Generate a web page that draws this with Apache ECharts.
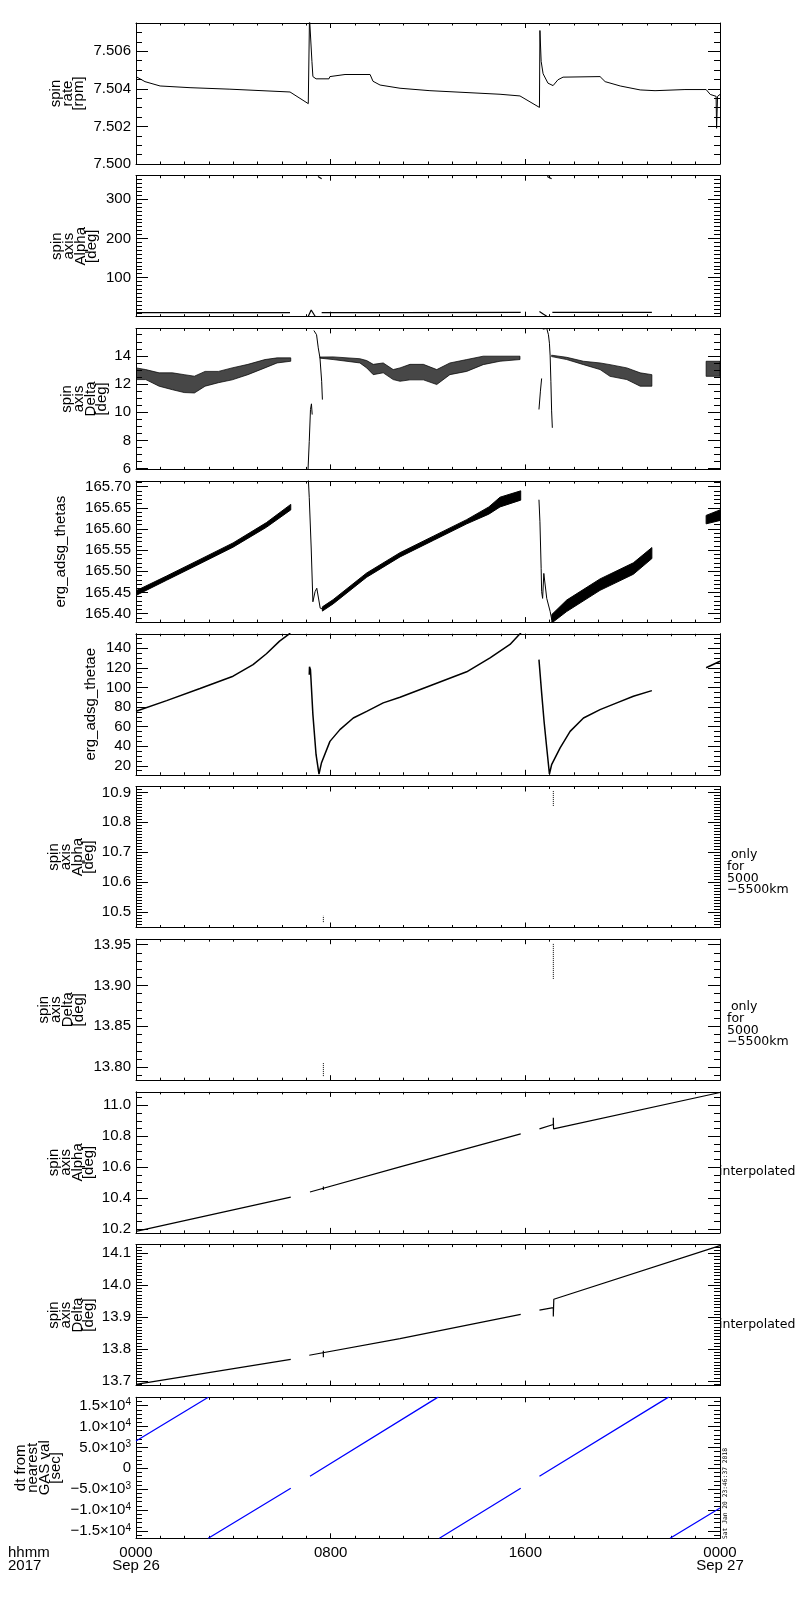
<!DOCTYPE html>
<html>
<head>
<meta charset="utf-8">
<script src="https://cdn.jsdelivr.net/npm/echarts@6.0.0/dist/echarts.min.js"></script>
<style>
html, body { margin: 0; padding: 0; background: #fff; }
#chart { width: 800px; height: 1600px; }
</style>
</head>
<body>
<div id="chart"></div>
<script>
// hours since 0000 Sep 26 2017
var hourTicks = [0, 8, 16, 24];
var hourTickLabels = ['0000\nSep 26', '0800', '1600', '0000\nSep 27'];

// panel 1: spin rate [rpm]
var rateHour = [0, 0.37, 0.99, 2.22, 3.86, 6.33, 7.08, 7.13, 7.23, 7.27, 7.40, 7.93, 7.97, 8.59, 9.62, 9.74, 10.03, 10.85, 12.08, 14.96, 15.78, 16.58, 16.60, 16.65, 16.73, 16.93, 17.14, 17.34, 17.55, 19.07, 19.28, 19.90, 20.72, 21.33, 22.56, 23.43, 23.60, 23.84, 23.86, 23.90, 24.00];
var rateVal = [7.50465, 7.50438, 7.50415, 7.50406, 7.50398, 7.50383, 7.50321, 7.50780, 7.50546, 7.50465, 7.50453, 7.50453, 7.50465, 7.50476, 7.50476, 7.50440, 7.50420, 7.50403, 7.50390, 7.50371, 7.50362, 7.50301, 7.50710, 7.50546, 7.50480, 7.50430, 7.50417, 7.50448, 7.50462, 7.50465, 7.50438, 7.50415, 7.50394, 7.50390, 7.50396, 7.50396, 7.50370, 7.50360, 7.50190, 7.50360, 7.50370];
var rateTicks = ['7.500', '7.502', '7.504', '7.506'];

// panel 2: spin axis Alpha, full range
var alphaHour = [0, 2.2, 4.5, 6.33, 6.33, 7.08, 7.20, 7.36, 7.36, 7.48, 7.63, 7.63, 7.63, 10.85, 15.81, 15.81, 16.58, 16.75, 16.88, 16.88, 16.90, 17.08, 17.08, 17.11, 19.5, 21.2];
var alphaVal = [10.2, 10.3, 10.35, 10.42, null, 1, 17, 1, null, 358, 352, null, 10.5, 10.6, 10.8, null, 13, 6, 1, null, 358, 352, null, 10.9, 11.0, 11.2];
var alphaTicks = ['100', '200', '300'];

// panel 3: spin axis Delta, scattered band (upper / lower edge) and jumps
var delBand1Hour = [0, 0.4, 0.95, 1.5, 1.98, 2.4, 2.84, 3.39, 3.95, 4.6, 5.3, 5.8, 6.36];
var delBand1Hi = [13.15, 13.03, 12.8, 12.8, 12.67, 12.56, 12.9, 12.9, 13.15, 13.4, 13.74, 13.86, 13.86];
var delBand1Lo = [12.32, 12.32, 11.85, 11.6, 11.4, 11.37, 11.85, 12.1, 12.3, 12.67, 13.15, 13.5, 13.62];
var delBand2Hour = [7.56, 8.1, 9.2, 9.48, 9.75, 10.16, 10.57, 10.85, 11.26, 11.81, 12.36, 12.9, 13.59, 14.27, 14.96, 15.78];
var delBand2Hi = [13.92, 13.93, 13.8, 13.67, 13.4, 13.5, 13.03, 13.15, 13.4, 13.4, 13.03, 13.5, 13.74, 13.98, 13.98, 13.98];
var delBand2Lo = [13.84, 13.74, 13.5, 13.15, 12.67, 12.8, 12.32, 12.2, 12.3, 12.3, 11.97, 12.67, 12.9, 13.38, 13.62, 13.74];
var delBand3Hour = [17.08, 17.7, 18.39, 19.07, 19.48, 20.17, 20.72, 21.2];
var delBand3Hi = [14.05, 13.9, 13.62, 13.5, 13.38, 13.15, 12.8, 12.67];
var delBand3Lo = [13.95, 13.74, 13.38, 13.03, 12.55, 12.32, 11.85, 11.85];
var delBand4Hour = [23.43, 24];
var delBand4Hi = [13.62, 13.62];
var delBand4Lo = [12.55, 12.55];
var delSpikeHour = [7.07, 7.12, 7.17, 7.21, 7.24, 7.24, 7.31, 7.36, 7.42, 7.49, 7.56, 7.63, 7.66, 7.66, 16.56, 16.62, 16.67, 16.67, 16.72, 16.88, 16.95, 16.99, 17.02, 17.05, 17.08, 17.11];
var delSpikeVal = [5.95, 7.94, 10.2, 10.6, 9.84, null, 15.8, 15.9, 15.5, 14.57, 13.86, 12.2, 10.9, null, 10.2, 11.5, 12.4, null, 15.9, 15.95, 15.5, 14.9, 14.0, 12.2, 10.1, 8.9];
var deltaTicks = ['6', '8', '10', '12', '14'];

// panel 4: erg_adsg_thetas
var thsBand1Hour = [0, 1.26, 2.63, 3.99, 5.36, 6.36];
var thsBand1Hi = [165.454, 165.489, 165.528, 165.567, 165.615, 165.658];
var thsBand1Lo = [165.443, 165.479, 165.518, 165.557, 165.604, 165.645];
var thsBand2Hour = [7.66, 8.1, 9.48, 10.85, 12.22, 13.59, 14.5, 14.96, 15.81];
var thsBand2Hi = [165.416, 165.433, 165.496, 165.544, 165.583, 165.622, 165.652, 165.675, 165.69];
var thsBand2Lo = [165.406, 165.423, 165.486, 165.534, 165.573, 165.612, 165.635, 165.652, 165.668];
var thsBand3Hour = [17.09, 17.7, 19.07, 20.44, 21.2];
var thsBand3Hi = [165.398, 165.432, 165.482, 165.52, 165.556];
var thsBand3Lo = [165.378, 165.405, 165.455, 165.493, 165.53];
var thsBand4Hour = [23.43, 24];
var thsBand4Hi = [165.632, 165.645];
var thsBand4Lo = [165.612, 165.62];
var thsSpikeHour = [7.08, 7.12, 7.2, 7.27, 7.36, 7.43, 7.57, 7.66, 7.66, 16.56, 16.6, 16.65, 16.67, 16.71, 16.76, 16.88, 17.02, 17.09];
var thsSpikeVal = [165.72, 165.674, 165.555, 165.428, 165.452, 165.46, 165.413, 165.411, null, 165.669, 165.617, 165.507, 165.452, 165.436, 165.495, 165.436, 165.405, 165.385];
var thetasTicks = ['165.40', '165.45', '165.50', '165.55', '165.60', '165.65', '165.70'];

// panel 5: erg_adsg_thetae
var thetaeHour = [0, 1.26, 2.63, 3.99, 4.81, 5.36, 5.9, 6.3, 6.4, 6.4, 7.12, 7.13, 7.17, 7.27, 7.40, 7.52, 7.62, 7.97, 8.38, 8.93, 9.48, 10.16, 10.85, 12.22, 13.59, 14.55, 15.37, 15.78, 15.9, 15.9, 16.56, 16.67, 16.77, 16.88, 16.99, 17.08, 17.43, 17.84, 18.39, 19.07, 19.76, 20.44, 21.2, 21.2, 23.43, 24];
var thetaeVal = [75.6, 86.5, 98.8, 111.4, 123.3, 134.3, 147.2, 154.7, 158, null, 113, 121, 118, 72.2, 31.3, 11.6, 22.8, 44.9, 56.9, 68.8, 75.6, 84.2, 89.9, 102.9, 115.9, 130.2, 143.8, 154.7, 158, null, 128.4, 94.4, 65.4, 38.2, 11.6, 21.1, 38.2, 55.1, 68.8, 77.3, 84.2, 90.9, 96.7, null, 120, 126.7];
var thetaeTicks = ['20', '40', '60', '80', '100', '120', '140'];

// panel 6 / 7: only for 5000-5500 km
var alphaNearHour = [7.70, 7.70, 7.70, 17.15, 17.15];
var alphaNearVal = [10.466, 10.487, null, 10.855, 10.905];
var alphaNearTicks = ['10.5', '10.6', '10.7', '10.8', '10.9'];
var deltaNearHour = [7.70, 7.70, 7.70, 17.15, 17.15];
var deltaNearVal = [13.789, 13.806, null, 13.908, 13.951];
var deltaNearTicks = ['13.80', '13.85', '13.90', '13.95'];

// panel 8 / 9: interpolated
var alphaIntHour = [0, 6.36, 6.36, 7.15, 10.85, 15.81, 15.81, 16.58, 17.15, 17.15, 17.16, 24, 24, 7.70, 7.70];
var alphaIntVal = [10.184, 10.406, null, 10.439, 10.602, 10.815, null, 10.848, 10.876, 10.92, 10.848, 11.083, null, 10.452, 10.475];
var alphaIntTicks = ['10.2', '10.4', '10.6', '10.8', '11.0'];
var deltaIntHour = [0, 6.36, 6.36, 7.12, 10.85, 15.81, 15.81, 16.58, 17.15, 17.15, 17.17, 24, 24, 7.70, 7.70];
var deltaIntVal = [13.690, 13.768, null, 13.781, 13.833, 13.909, null, 13.922, 13.930, 13.902, 13.956, 14.124, null, 13.775, 13.795];
var deltaIntTicks = ['13.7', '13.8', '13.9', '14.0', '14.1'];

// panel 10: dt from nearest GAS val [sec]
var dtHour = [0, 2.97, 2.97, 2.97, 6.36, 6.36, 7.15, 12.43, 12.43, 12.47, 15.81, 15.81, 16.58, 21.9, 21.9, 21.95, 24];
var dtVal = [6530, 17000, null, -16750, -4780, null, -1900, 17100, null, -16750, -4780, null, -1900, 17100, null, -16750, -9500];
var dtTickVals = [15000, 10000, 5000, 0, -5000, -10000, -15000];
var dtTickLabels = ['1.5\u00d710{s|4}', '1.0\u00d710{s|4}', '5.0\u00d710{s|3}', '0', '\u22125.0\u00d710{s|3}', '\u22121.0\u00d710{s|4}', '\u22121.5\u00d710{s|4}'];

var FONT = 'Liberation Sans';
var TOP0 = 23, STEP = 152.7, H = 141, LEFT = 136, W = 584;

var panels = [
  { name: 'spin\nrate\n[rpm]', gap: 51, min: 7.500, max: 7.5075, ticks: rateTicks, minor: 0.0005 },
  { name: 'spin\naxis\nAlpha\n[deg]', gap: 38, min: 0, max: 360, ticks: alphaTicks, minor: 10 },
  { name: 'spin\naxis\nDelta\n[deg]', gap: 28, min: 5.95, max: 15.95, ticks: deltaTicks, minor: 0.5 },
  { name: 'erg_adsg_thetas', gap: 69, min: 165.38, max: 165.713, ticks: thetasTicks, minor: 0.01 },
  { name: 'erg_adsg_thetae', gap: 39, min: 10.8, max: 154.7, ticks: thetaeTicks, minor: 5 },
  { name: 'spin\naxis\nAlpha\n[deg]', gap: 41, min: 10.448, max: 10.92, ticks: alphaNearTicks, minor: 0.01 },
  { name: 'spin\naxis\nDelta\n[deg]', gap: 51, min: 13.784, max: 13.9566, ticks: deltaNearTicks, minor: 0.01 },
  { name: 'spin\naxis\nAlpha\n[deg]', gap: 41, min: 10.174, max: 11.087, ticks: alphaIntTicks, minor: 0.05 },
  { name: 'spin\naxis\nDelta\n[deg]', gap: 41, min: 13.686, max: 14.127, ticks: deltaIntTicks, minor: 0.01 },
  { name: 'dt from\nnearest\nGAS val\n[sec]', gap: 74, min: -16750, max: 17000, tickVals: dtTickVals, tickLabels: dtTickLabels, minor: 1000 }
];

function steps(min, max, step) {
  var out = [];
  for (var k = Math.ceil(min / step - 1e-9); k * step <= max + 1e-9; k++) {
    out.push(Math.round(k * step * 1e6) / 1e6);
  }
  return out;
}

function pairs(h, v) {
  return h.map(function (x, i) { return [x, v[i] == null ? '-' : v[i]]; });
}

function lookup(vals, labels) {
  return function (v) {
    for (var k = 0; k < vals.length; k++) {
      if (Math.abs(vals[k] - v) < 1e-6) return labels[k];
    }
    return '';
  };
}

var grids = [], xAxes = [], yAxes = [], series = [];
var hourMinor = steps(0, 24, 1);

panels.forEach(function (p, i) {
  var last = i === panels.length - 1;
  var tickVals = p.tickVals || p.ticks.map(Number);
  var tickLabels = p.tickLabels || p.ticks;
  var minors = steps(p.min, p.max, p.minor);

  grids.push({ left: LEFT, top: TOP0 + i * STEP, width: W, height: H, outerBoundsMode: 'none' });

  ['bottom', 'top'].forEach(function (pos) {
    xAxes.push({
      type: 'value', gridIndex: i, position: pos, min: 0, max: 24,
      splitLine: { show: false },
      axisLine: { show: true, onZero: false, lineStyle: { color: '#000', width: 1 } },
      axisTick: { show: true, inside: true, length: 5, customValues: hourTicks, lineStyle: { color: '#000' } },
      axisLabel: {
        show: last && pos === 'bottom', customValues: hourTicks,
        formatter: lookup(hourTicks, hourTickLabels),
        margin: 8, fontSize: 15, lineHeight: 13, color: '#000', fontFamily: FONT
      }
    });
    xAxes.push({
      type: 'value', gridIndex: i, position: pos, min: 0, max: 24,
      splitLine: { show: false },
      axisLine: { show: false, onZero: false },
      axisTick: { show: true, inside: true, length: 2.5, customValues: hourMinor, lineStyle: { color: '#000' } },
      axisLabel: { show: false }
    });
  });

  ['left', 'right'].forEach(function (pos) {
    var main = {
      type: 'value', gridIndex: i, position: pos, min: p.min, max: p.max,
      splitLine: { show: false },
      axisLine: { show: true, onZero: false, lineStyle: { color: '#000', width: 1 } },
      axisTick: { show: true, inside: true, length: 12, customValues: tickVals, lineStyle: { color: '#000' } },
      axisLabel: { show: false }
    };
    if (pos === 'left') {
      main.axisLabel = {
        show: true, customValues: tickVals, formatter: lookup(tickVals, tickLabels),
        margin: 5, fontSize: 15, lineHeight: 16, color: '#000', fontFamily: FONT,
        rich: { s: { fontSize: 10, lineHeight: 10, verticalAlign: 'top', color: '#000', fontFamily: FONT } }
      };
      main.name = p.name;
      main.nameLocation = 'middle';
      main.nameRotate = 90;
      main.nameGap = p.gap;
      main.nameMoveOverlap = false;
      main.nameTextStyle = { fontSize: 15, lineHeight: 11.7, color: '#000', fontFamily: FONT };
    }
    yAxes.push(main);
    yAxes.push({
      type: 'value', gridIndex: i, position: pos, min: p.min, max: p.max,
      splitLine: { show: false },
      axisLine: { show: false, onZero: false },
      axisTick: { show: true, inside: true, length: 6, customValues: minors, lineStyle: { color: '#000' } },
      axisLabel: { show: false }
    });
  });
});

function line(i, h, v, color, width, type) {
  return {
    type: 'line', xAxisIndex: 4 * i, yAxisIndex: 4 * i,
    data: pairs(h, v), showSymbol: false, symbol: 'none', connectNulls: false,
    clip: true, silent: true, animation: false,
    lineStyle: { color: color || '#000', width: width || 1, type: type || 'solid' }
  };
}

function band(i, hours, lo, hi, fill) {
  return {
    type: 'custom', xAxisIndex: 4 * i, yAxisIndex: 4 * i,
    clip: true, silent: true, animation: false,
    data: [[hours[0], lo[0]]],
    renderItem: function (params, api) {
      var pts = [];
      for (var k = 0; k < hours.length; k++) pts.push(api.coord([hours[k], hi[k]]));
      for (var j = hours.length - 1; j >= 0; j--) pts.push(api.coord([hours[j], lo[j]]));
      return { type: 'polygon', shape: { points: pts }, style: { fill: fill, stroke: fill, lineWidth: 1 } };
    }
  };
}

var bandFill = 'rgba(0,0,0,0.72)';
series.push(line(0, rateHour, rateVal));
series.push(line(1, alphaHour, alphaVal, '#000', 1.2));
series.push(band(2, delBand1Hour, delBand1Lo, delBand1Hi, bandFill));
series.push(band(2, delBand2Hour, delBand2Lo, delBand2Hi, bandFill));
series.push(band(2, delBand3Hour, delBand3Lo, delBand3Hi, bandFill));
series.push(band(2, delBand4Hour, delBand4Lo, delBand4Hi, bandFill));
series.push(line(2, delSpikeHour, delSpikeVal));
series.push(band(3, thsBand1Hour, thsBand1Lo, thsBand1Hi, '#000'));
series.push(band(3, thsBand2Hour, thsBand2Lo, thsBand2Hi, '#000'));
series.push(band(3, thsBand3Hour, thsBand3Lo, thsBand3Hi, '#000'));
series.push(band(3, thsBand4Hour, thsBand4Lo, thsBand4Hi, '#000'));
series.push(line(3, thsSpikeHour, thsSpikeVal));
series.push(line(4, thetaeHour, thetaeVal, '#000', 1.5));
series.push(line(5, alphaNearHour, alphaNearVal, '#000', 1, 'dotted'));
series.push(line(6, deltaNearHour, deltaNearVal, '#000', 1, 'dotted'));
series.push(line(7, alphaIntHour, alphaIntVal, '#000', 1.2));
series.push(line(8, deltaIntHour, deltaIntVal, '#000', 1.2));
series.push(line(9, dtHour, dtVal, '#0000ff', 1.3));

var noteFont = '12.5px "DejaVu Sans"';
var chart = echarts.init(document.getElementById('chart'));
chart.setOption({
  animation: false,
  backgroundColor: '#fff',
  grid: grids,
  xAxis: xAxes,
  yAxis: yAxes,
  series: series,
  graphic: [
    { type: 'text', x: 8, y: 1546, style: { text: 'hhmm\n2017', font: '15px "Liberation Sans"', fill: '#000', lineHeight: 13 } },
    { type: 'text', x: 727, y: 849, style: { text: ' only\nfor\n5000\n\u22125500km', font: noteFont, fill: '#000', lineHeight: 11.7 } },
    { type: 'text', x: 727, y: 1001, style: { text: ' only\nfor\n5000\n\u22125500km', font: noteFont, fill: '#000', lineHeight: 11.7 } },
    { type: 'text', x: 719, y: 1172, style: { text: 'interpolated', font: noteFont, fill: '#000', verticalAlign: 'middle' } },
    { type: 'text', x: 719, y: 1325, style: { text: 'interpolated', font: noteFont, fill: '#000', verticalAlign: 'middle' } },
    { type: 'text', x: 725, y: 1539, rotation: Math.PI / 2, style: { text: 'Sat Jan 20 23:46:37 2018', font: '6.3px "DejaVu Sans Mono"', fill: '#000', align: 'left', verticalAlign: 'middle' } }
  ]
});
</script>
</body>
</html>
